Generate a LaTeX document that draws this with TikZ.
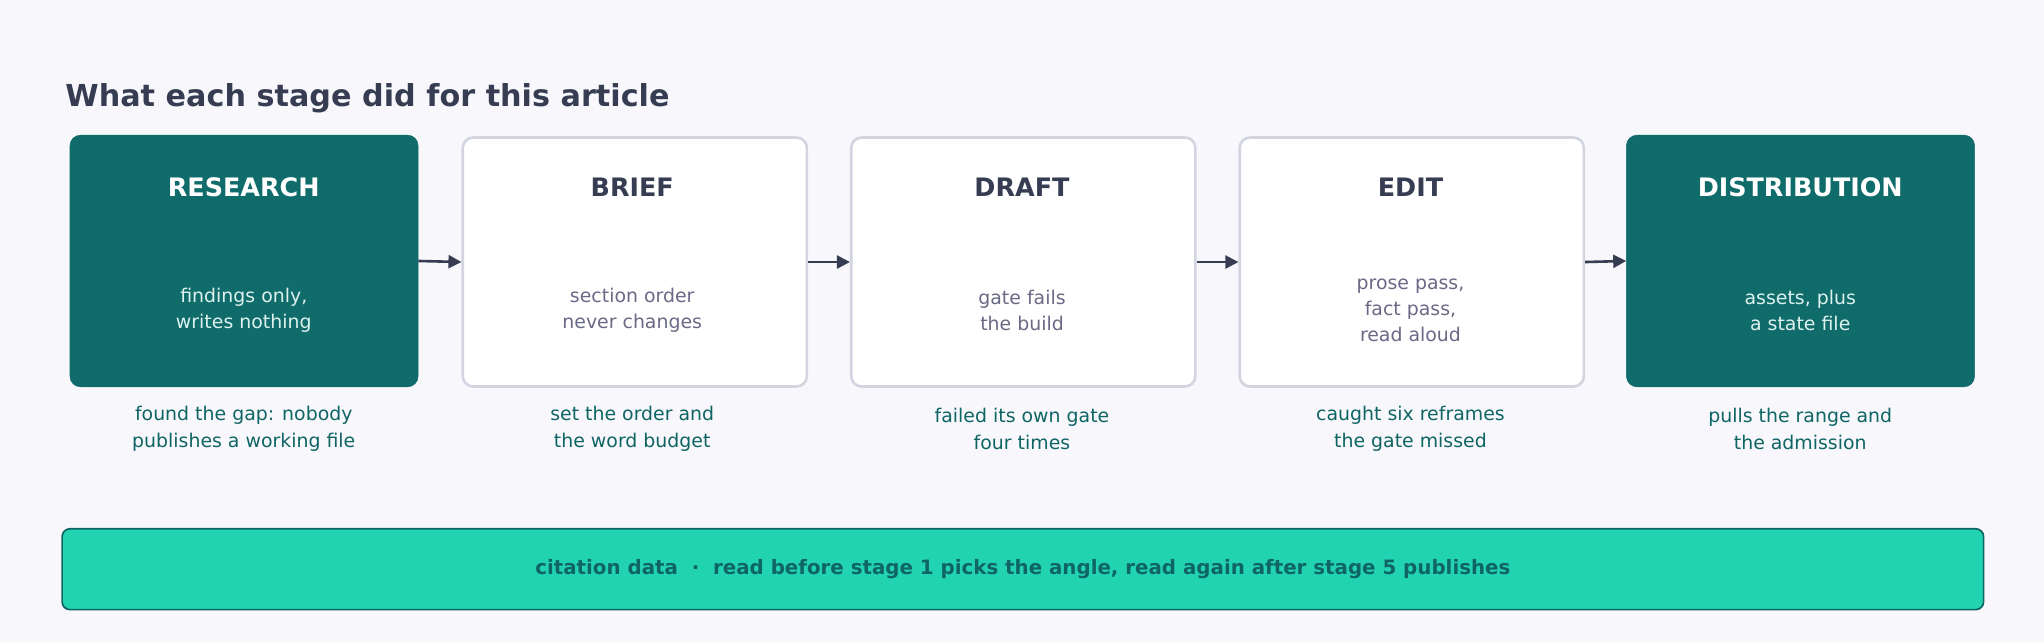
\documentclass[tikz,border=0pt]{standalone}
\usepackage{fontspec}
\setmainfont{DejaVu Sans}
\usetikzlibrary{arrows.meta}
\definecolor{bg}{HTML}{F8F8FC}
\definecolor{teal}{HTML}{106B6B}
\definecolor{ink}{HTML}{363D52}
\definecolor{bord}{HTML}{D2D5E0}
\definecolor{muted}{HTML}{6B6A86}
\definecolor{light}{HTML}{DDF1EE}
\definecolor{aqua}{HTML}{22D3B1}
\definecolor{capc}{HTML}{0F6464}
\begin{document}
\begin{tikzpicture}[x=1pt,y=-1pt,
  dark/.style={fill=teal,draw=teal,rounded corners=8pt,minimum width=267pt,minimum height=193pt,anchor=north west},
  lite/.style={fill=white,draw=bord,line width=2pt,rounded corners=8pt,minimum width=264pt,minimum height=191pt,anchor=north west},
  hd/.style={font=\fontsize{19.5}{22}\selectfont\bfseries},
  bd/.style={font=\fontsize{14.5}{20}\selectfont,align=center},
  captxt/.style={font=\fontsize{14.5}{20.5}\selectfont,align=center,text=capc},
  arr/.style={-{Triangle[length=10pt,width=10pt]},line width=2pt,draw=ink}]
\fill[bg] (0,0) rectangle (1568,493);
\useasboundingbox (0,0) rectangle (1568,493);
\node[anchor=base west,font=\fontsize{23.2}{28}\selectfont\bfseries,text=ink,inner sep=0] (title) at (50,82) {What each stage did for this article};
% boxes
\node[dark] (b1) at (53.5,103.5) {};
\node[lite] (b2) at (354,104.5) {};
\node[lite] (b3) at (652,104.5) {};
\node[lite] (b4) at (950,104.5) {};
\node[dark] (b5) at (1247.5,103.5) {};
% headings
\node[hd,text=white] (h1) at (187,144) {RESEARCH};
\node[hd,text=ink] (h2) at (485,144) {BRIEF};
\node[hd,text=ink] (h3) at (784,144) {DRAFT};
\node[hd,text=ink] (h4) at (1082,144) {EDIT};
\node[hd,text=white] (h5) at (1381,144) {DISTRIBUTION};
% bodies
\node[bd,text=light] (t1) at (187,238) {findings only,\\writes nothing};
\node[bd,text=muted] (t2) at (485,238) {section order\\never changes};
\node[bd,text=muted] (t3) at (784,238) {gate fails\\the build};
\node[bd,text=muted] (t4) at (1082,238) {prose pass,\\fact pass,\\read aloud};
\node[bd,text=light] (t5) at (1381,238) {assets, plus\\a state file};
% captions
\node[captxt] (c1) at (187,329) {found the gap: nobody\\publishes a working file};
\node[captxt] (c2) at (485,329) {set the order and\\the word budget};
\node[captxt] (c3) at (784,329) {failed its own gate\\four times};
\node[captxt] (c4) at (1082,329) {caught six reframes\\the gate missed};
\node[captxt] (c5) at (1381,329) {pulls the range and\\the admission};
% arrows
\draw[arr] (b1.east) -- (b2.west);
\draw[arr] (b2.east) -- (b3.west);
\draw[arr] (b3.east) -- (b4.west);
\draw[arr] (b4.east) -- (b5.west);
% bottom bar
\node[fill=aqua,draw=capc,line width=1.3pt,rounded corners=6pt,minimum width=1474pt,minimum height=62pt,anchor=north west,
  font=\fontsize{15.2}{17}\selectfont\bfseries,text=capc] (bar) at (47,405)
  {citation data \ · \ read before stage 1 picks the angle, read again after stage 5 publishes};
\end{tikzpicture}
\end{document}
